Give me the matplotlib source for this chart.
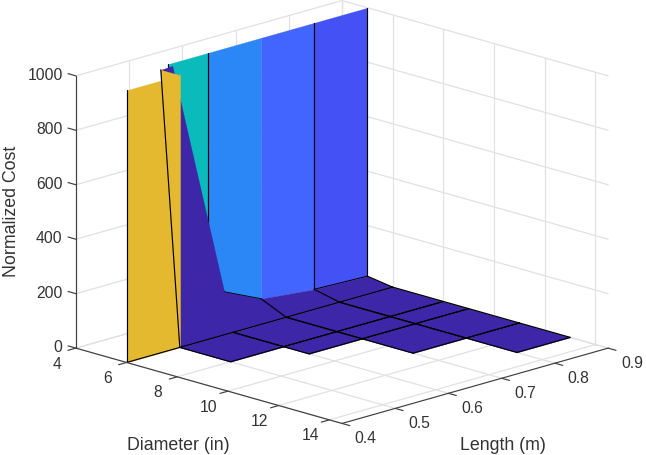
import numpy as np
import matplotlib
matplotlib.use("Agg")
import matplotlib.pyplot as plt
from mpl_toolkits.mplot3d import proj3d
from mpl_toolkits.mplot3d.art3d import Poly3DCollection

plt.rcParams['font.family'] = ['Liberation Sans', 'DejaVu Sans']

# axis ticks
diam_ticks = [4, 6, 8, 10, 12, 14]
len_ticks = [0.4, 0.5, 0.6, 0.7, 0.8, 0.9]
cost_ticks = [0, 200, 400, 600, 800, 1000]
diam_lim = (4, 14.5)
len_lim = (0.4, 0.9)
cost_lim = (0, 1000)

# flat part of the surface, nan where there is no design
floor_diam = [6, 8, 9, 11, 13]
floor_len = [0.4, 0.5, 0.6, 0.7, 0.8, 0.9]
floor_cost = np.array([
    [0, 0, 0, 0, 0, 0],
    [np.nan, 0, 0, 0, 0, 0],
    [np.nan, np.nan, 0, 0, 0, 0],
    [np.nan, np.nan, np.nan, 0, 0, 0],
    [np.nan, np.nan, np.nan, np.nan, 0, 0],
])

# tall wall along the small diameter
wall_diam = 5
wall_len = [0.526, 0.6, 0.7, 0.8, 0.9]
wall_base = [50, 50, 42, 21, 14]
wall_top = 1000
wall_colors = ['#0BBBBB', '#2B87F5', '#4264FF', '#4452F5']

# dark facet that drops from the wall to the floor
slope_diam = [5.25, 5.2, 5.65, 5, 6, 6, 6]
slope_len = [0.5, 0.524, 0.6, 0.7, 0.7, 0.6, 0.5]
slope_cost = [1000, 1000, 140, 42, 0, 0, 0]

# yellow facets at the short lengths
front_diam = 6
front_len = [0.4, 0.5]
front_top = 1000
flap_diam = [5.25, 6, 6]
flap_len = [0.5, 0.5, 0.5]
flap_cost = [1000, 1000, 0]

dark = '#3D26A8'
yellow = '#E5B92F'
grid_col = '#E1E1E1'
axis_col = '#404040'
text_col = '#333333'


def add_poly(ax, xs, ys, zs, color, order):
    verts = [list(zip(xs, ys, zs))]
    poly = Poly3DCollection(verts, facecolors=color, edgecolors=color,
                            linewidths=0.2, zorder=order)
    ax.add_collection3d(poly, autolim=False)


def add_line(ax, xs, ys, zs, order=6, color='black', lw=0.85):
    ax.plot(xs, ys, zs, color=color, lw=lw, zorder=order,
            solid_capstyle='round')


def add_label(ax, x, y, z, s, ha='center'):
    # project to the 2d view so the text has a normal position
    px, py, _ = proj3d.proj_transform(x, y, z, ax.get_proj())
    ax.text2D(px, py, s, transform=ax.transData, ha=ha, va='center',
              fontsize=11.3, color=text_col)


def draw_grid(ax):
    x0, x1 = diam_lim
    y0, y1 = len_lim
    z1 = cost_lim[1]
    for d in diam_ticks:
        add_line(ax, [d, d], [y0, y1], [0, 0], 1, grid_col, 0.9)
        add_line(ax, [d, d], [y1, y1], [0, z1], 1, grid_col, 0.9)
    for l in len_ticks:
        add_line(ax, [x0, x1], [l, l], [0, 0], 1, grid_col, 0.9)
        add_line(ax, [x0, x0], [l, l], [0, z1], 1, grid_col, 0.9)
    for c in cost_ticks:
        add_line(ax, [x0, x0], [y0, y1], [c, c], 1, grid_col, 0.9)
        add_line(ax, [x0, x1], [y1, y1], [c, c], 1, grid_col, 0.9)


def draw_axes(ax):
    x0, x1 = diam_lim
    y0, y1 = len_lim
    z1 = cost_lim[1]
    add_line(ax, [x0, x1], [y0, y0], [0, 0], 7, axis_col, 0.85)
    add_line(ax, [x1, x1], [y0, y1], [0, 0], 7, axis_col, 0.85)
    add_line(ax, [x0, x0], [y0, y0], [0, z1], 7, axis_col, 0.85)
    for d in diam_ticks:
        add_line(ax, [d, d], [y0, y0 - 0.015], [0, 0], 7, axis_col, 0.85)
        add_label(ax, d, y0 - 0.036, -39, str(d))
    for l in len_ticks:
        add_line(ax, [x1, x1 + 0.31], [l, l], [0, 0], 7, axis_col, 0.85)
        add_label(ax, x1 + 0.94, l, -30, f"{l:.1f}")
    for c in cost_ticks:
        add_line(ax, [x0 - 0.31, x0], [y0, y0], [c, c], 7, axis_col, 0.85)
        add_label(ax, x0, y0 - 0.0248, c + 16, str(c), ha='right')


def draw_surface(ax):
    # wall first, everything else sits in front of it
    for i, col in enumerate(wall_colors):
        ls = [wall_len[i], wall_len[i + 1], wall_len[i + 1], wall_len[i]]
        zs = [wall_top, wall_top, wall_base[i + 1], wall_base[i]]
        add_poly(ax, [wall_diam] * 4, ls, zs, col, 2)
    for i, l in enumerate(wall_len):
        if i != 2:
            add_line(ax, [wall_diam, wall_diam], [l, l], [wall_top, wall_base[i]], 2.5)

    add_poly(ax, slope_diam, slope_len, slope_cost, dark, 3)
    add_line(ax, slope_diam[2:4], slope_len[2:4], slope_cost[2:4], 3.5, lw=0.6)
    add_line(ax, slope_diam[3:5], slope_len[3:5], slope_cost[3:5], 5)

    # strip between wall and floor
    for i in range(2, 4):
        ls = [wall_len[i], wall_len[i + 1], wall_len[i + 1], wall_len[i]]
        add_poly(ax, [wall_diam, wall_diam, front_diam, front_diam], ls,
                 [wall_base[i], wall_base[i + 1], 0, 0], dark, 3)
    add_line(ax, [wall_diam, wall_diam], wall_len[3:], wall_base[3:], 3.5, lw=0.7)
    for i in (3, 4):
        add_line(ax, [wall_diam, front_diam], [wall_len[i]] * 2, [wall_base[i], 0], 5)

    # floor cells, skip the nan ones
    for i in range(len(floor_diam) - 1):
        for j in range(len(floor_len) - 1):
            cell = floor_cost[i:i + 2, j:j + 2]
            if np.isnan(cell).any():
                continue
            add_poly(ax,
                     [floor_diam[i], floor_diam[i], floor_diam[i + 1], floor_diam[i + 1]],
                     [floor_len[j], floor_len[j + 1], floor_len[j + 1], floor_len[j]],
                     [cell[0, 0], cell[0, 1], cell[1, 1], cell[1, 0]], dark, 3)
            add_line(ax, [floor_diam[i]] * 2, floor_len[j:j + 2], cell[0, :2], 5)
            add_line(ax, [floor_diam[i + 1]] * 2, floor_len[j:j + 2], cell[1, :2], 5)
            add_line(ax, floor_diam[i:i + 2], [floor_len[j]] * 2, cell[:2, 0], 5)
            add_line(ax, floor_diam[i:i + 2], [floor_len[j + 1]] * 2, cell[:2, 1], 5)

    # yellow front
    add_poly(ax, [front_diam] * 4, [front_len[0], front_len[1], front_len[1], front_len[0]],
             [front_top, front_top, 0, 0], yellow, 4)
    add_poly(ax, flap_diam, flap_len, flap_cost, yellow, 4.2)
    add_line(ax, [front_diam] * 2, [front_len[0]] * 2, [0, front_top], 5)
    add_line(ax, [flap_diam[0], flap_diam[2]], flap_len[:2], [flap_cost[0], flap_cost[2]], 5)
    add_line(ax, [front_diam, front_diam], front_len, [0, 0], 5)


if __name__ == "__main__":
    fig = plt.figure(figsize=(6.46, 4.55), dpi=100)
    ax = fig.add_axes([41.3 / 646, -57.7 / 455, 585.6 / 646, 585.6 / 455],
                      projection='3d', computed_zorder=False, proj_type='ortho')
    ax.set_box_aspect((376, 376, 283.6))
    ax.view_init(elev=16.44, azim=-45)
    ax.set_xlim(*diam_lim, view_margin=0)
    ax.set_ylim(*len_lim, view_margin=0)
    ax.set_zlim(*cost_lim, view_margin=0)
    ax.set_axis_off()

    draw_grid(ax)
    draw_surface(ax)
    draw_axes(ax)

    fig.text(178.5 / 646, 1 - 445.5 / 455, "Diameter (in)", ha='center', va='center',
             fontsize=12.8, color=text_col)
    fig.text(503 / 646, 1 - 445.5 / 455, "Length (m)", ha='center', va='center',
             fontsize=12.8, color=text_col)
    fig.text(12 / 646, 1 - 211.5 / 455, "Normalized Cost", ha='center', va='center',
             rotation=90, fontsize=12.8, color=text_col)

    fig.savefig("out.png", dpi=100)
